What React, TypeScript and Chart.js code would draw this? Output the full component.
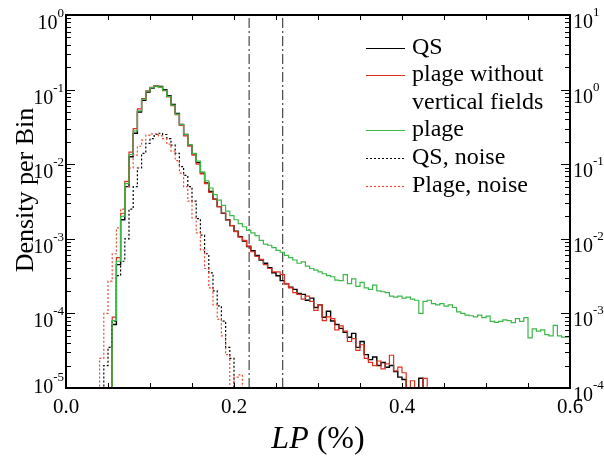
import React, { useEffect, useRef } from "react";
import { Chart, registerables } from "chart.js";

Chart.register(...registerables);

// ---------- data ----------
const BIN_WIDTH = 0.005; // LP (%) bin width
const EMPTY = 1e-6; // empty bin (below the axis floor)

// QS (black solid), bins start at LP = 0.055
const QS_START = 0.055;
const QS = [
  EMPTY, 7.1e-5, 4.5e-4, 1.8e-3, 5.0e-3, 1.26e-2, 2.6e-2, 5.0e-2, 7.2e-2, 9.3e-2,
  0.105, 0.112, 0.11, 0.1, 0.083, 0.063, 0.048, 0.034, 0.025, 0.018,
  0.0138, 0.0105, 7.6e-3, 5.6e-3, 4.3e-3, 3.4e-3, 2.7e-3, 2.2e-3, 1.8e-3, 1.5e-3,
  1.26e-3, 1.07e-3, 9.3e-4, 7.9e-4, 6.9e-4, 6.0e-4, 5.2e-4, 4.7e-4, 4.1e-4, 3.5e-4,
  3.2e-4, 2.75e-4, 2.5e-4, 2.25e-4, 2.1e-4, 1.85e-4, 1.8e-4, 1.5e-4, 1.6e-4, 1.2e-4,
  1.3e-4, 8.9e-5, 1.07e-4, 7.9e-5, 7.1e-5, 6.3e-5, 5.6e-5, 4.8e-5, 5.4e-5, 3.5e-5,
  4.2e-5, 2.8e-5, 2.4e-5, 2.6e-5, 2.0e-5, 2.2e-5, 1.9e-5, 2.0e-5, 1.66e-5, 1.4e-5,
  1.3e-5, EMPTY, EMPTY, EMPTY, 1.35e-5, EMPTY,
];

// plage without vertical fields (red solid)
const PLAGE_NOVERT_START = 0.055;
const PLAGE_NOVERT = [
  EMPTY, 8.9e-5, 5.6e-4, 2.2e-3, 5.9e-3, 1.45e-2, 3.0e-2, 5.5e-2, 7.6e-2, 9.6e-2,
  0.107, 0.112, 0.108, 0.097, 0.08, 0.061, 0.046, 0.033, 0.024, 0.0175,
  0.0132, 0.01, 7.4e-3, 5.5e-3, 4.2e-3, 3.4e-3, 2.7e-3, 2.2e-3, 1.8e-3, 1.5e-3,
  1.25e-3, 1.05e-3, 9.5e-4, 8.0e-4, 6.7e-4, 5.8e-4, 5.3e-4, 4.5e-4, 4.0e-4, 3.6e-4,
  3.6e-4, 3.3e-4, 2.5e-4, 2.2e-4, 1.9e-4, 1.8e-4, 1.55e-4, 1.7e-4, 1.45e-4, 1.1e-4,
  1.3e-4, 8.0e-5, 9.0e-5, 8.5e-5, 6.0e-5, 6.8e-5, 5.8e-5, 4.2e-5, 4.6e-5, 3.2e-5,
  3.8e-5, 2.5e-5, 2.2e-5, 2.0e-5, 2.3e-5, 1.8e-5, 2.1e-5, 2.75e-5, 1.7e-5, 1.9e-5,
  1.6e-5, EMPTY, 1.25e-5, EMPTY, EMPTY, 1.35e-5, EMPTY,
];

// plage (green solid)
const PLAGE_START = 0.055;
const PLAGE = [
  EMPTY, 8.0e-5, 5.0e-4, 2.0e-3, 5.5e-3, 1.35e-2, 2.8e-2, 5.2e-2, 7.4e-2, 9.5e-2,
  0.106, 0.111, 0.108, 0.098, 0.081, 0.062, 0.047, 0.034, 0.025, 0.0182,
  0.014, 0.011, 7.9e-3, 6.0e-3, 4.8e-3, 3.9e-3, 3.3e-3, 2.8e-3, 2.35e-3, 2.05e-3,
  1.8e-3, 1.6e-3, 1.45e-3, 1.3e-3, 1.2e-3, 1.1e-3, 9.5e-4, 8.5e-4, 8.2e-4, 7.6e-4,
  7.0e-4, 6.6e-4, 6.0e-4, 5.6e-4, 5.2e-4, 4.7e-4, 4.9e-4, 4.3e-4, 4.0e-4, 3.8e-4,
  3.6e-4, 3.4e-4, 3.2e-4, 3.1e-4, 2.8e-4, 2.75e-4, 3.3e-4, 2.5e-4, 2.9e-4, 2.3e-4,
  2.6e-4, 2.2e-4, 2.1e-4, 2.4e-4, 2.0e-4, 1.95e-4, 1.9e-4, 1.7e-4, 1.65e-4, 1.7e-4,
  1.6e-4, 1.65e-4, 1.55e-4, 1.5e-4, 1.0e-4, 1.45e-4, 1.5e-4, 1.35e-4, 1.3e-4, 1.35e-4,
  1.25e-4, 1.3e-4, 1.2e-4, 1.05e-4, 1.0e-4, 9.5e-5, 9.3e-5, 9.0e-5, 9.5e-5, 8.8e-5,
  9.2e-5, 7.8e-5, 7.6e-5, 7.8e-5, 8.2e-5, 8.0e-5, 7.5e-5, 8.5e-5, 7.8e-5, 8.8e-5,
  4.7e-5, 6.2e-5, 5.8e-5, 6.0e-5, 5.2e-5, 5.0e-5, 6.9e-5, 5.0e-5, 4.8e-5,
];

// QS, noise (black dotted)
const QS_NOISE_START = 0.045;
const QS_NOISE = [
  EMPTY, 2.0e-5, 3.5e-5, 7.9e-5, 3.2e-4, 5.0e-4, 1.0e-3, 2.5e-3, 5.0e-3, 8.9e-3,
  1.4e-2, 1.9e-2, 2.2e-2, 2.5e-2, 2.6e-2, 2.5e-2, 2.2e-2, 1.8e-2, 1.4e-2, 9.3e-3,
  7.1e-3, 5.0e-3, 3.2e-3, 1.86e-3, 1.12e-3, 6.3e-4, 3.5e-4, 2.0e-4, 1.26e-4, 7.9e-5,
  3.5e-5, 2.5e-5, EMPTY,
];

// Plage, noise (red dotted)
const PLAGE_NOISE_START = 0.04;
const PLAGE_NOISE = [
  EMPTY, 2.5e-5, 1.0e-4, 2.7e-4, 6.3e-4, 1.4e-3, 2.5e-3, 5.0e-3, 8.9e-3, 1.32e-2,
  1.74e-2, 2.1e-2, 2.45e-2, 2.55e-2, 2.55e-2, 2.4e-2, 2.2e-2, 1.86e-2, 1.5e-2, 1.12e-2,
  7.6e-3, 5.0e-3, 3.2e-3, 1.9e-3, 1.2e-3, 7.1e-4, 4.0e-4, 2.2e-4, 1.3e-4, 8.3e-5,
  5.0e-5, 2.8e-5, EMPTY, 1.4e-5, 1.5e-5, EMPTY,
];

// vertical dash-dot markers (LP %)
const VLINES = [0.218, 0.258];

// axis ticks / labels
const X_TICKS = [0, 0.05, 0.1, 0.15, 0.2, 0.25, 0.3, 0.35, 0.4, 0.45, 0.5, 0.55, 0.6];
const X_LABELS = [0.0, 0.2, 0.4, 0.6];
const Y_DECADES = [-5, -4, -3, -2, -1, 0];
const Y2_OFFSET = 1; // right axis = left axis x 10

const LEGEND_ITEMS = [
  { lines: ["QS"], color: "#000000", dash: [] as number[] },
  { lines: ["plage without", "vertical fields"], color: "#e0301e", dash: [] as number[] },
  { lines: ["plage"], color: "#3cb84a", dash: [] as number[] },
  { lines: ["QS, noise"], color: "#000000", dash: [2, 2] },
  { lines: ["Plage, noise"], color: "#ef4a32", dash: [2, 2] },
];

const SERIF = '"Liberation Serif", "Times New Roman", serif';

function hist(start: number, values: number[]) {
  const pts = values.map((v, i) => ({ x: start + i * BIN_WIDTH, y: v }));
  pts.push({ x: start + values.length * BIN_WIDTH, y: values[values.length - 1] });
  return pts;
}

const axesPlugin = {
  id: "customAxes",
  afterDraw(chart: any) {
    const ctx: CanvasRenderingContext2D = chart.ctx;
    const { left, right, top, bottom } = chart.chartArea;
    const xs = chart.scales.x;
    const ys = chart.scales.y;
    ctx.save();
    ctx.strokeStyle = "#000";
    ctx.fillStyle = "#000";
    ctx.lineWidth = 1;
    ctx.setLineDash([]);

    // y ticks (both sides)
    ctx.beginPath();
    for (const d of Y_DECADES) {
      const py = Math.round(ys.getPixelForValue(Math.pow(10, d))) + 0.5;
      ctx.moveTo(left, py); ctx.lineTo(left + 9, py);
      ctx.moveTo(right, py); ctx.lineTo(right - 9, py);
      if (d < 0) {
        for (let m = 2; m <= 9; m++) {
          const my = Math.round(ys.getPixelForValue(m * Math.pow(10, d))) + 0.5;
          ctx.moveTo(left, my); ctx.lineTo(left + 5, my);
          ctx.moveTo(right, my); ctx.lineTo(right - 5, my);
        }
      }
    }
    // x ticks (top & bottom)
    for (const t of X_TICKS) {
      const px = Math.round(xs.getPixelForValue(t)) + 0.5;
      ctx.moveTo(px, bottom); ctx.lineTo(px, bottom - 5);
      ctx.moveTo(px, top); ctx.lineTo(px, top + 5);
    }
    ctx.stroke();

    // frame
    ctx.lineWidth = 2;
    ctx.strokeRect(left, top, right - left, bottom - top);

    // y labels
    const big = `20px ${SERIF}`;
    const small = `13px ${SERIF}`;
    ctx.textBaseline = "alphabetic";
    ctx.textAlign = "left";
    for (const d of Y_DECADES) {
      const py = ys.getPixelForValue(Math.pow(10, d));
      // left
      const expL = String(d);
      ctx.font = big; const w1 = ctx.measureText("10").width;
      ctx.font = small; const w2 = ctx.measureText(expL).width;
      const bl = Math.min(py + 14, bottom + 5);
      const xl = left - 2 - w1 - w2;
      ctx.font = big; ctx.fillText("10", xl, bl);
      ctx.font = small; ctx.fillText(expL, xl + w1, bl - 12);
      // right
      const expR = String(d + Y2_OFFSET);
      const br = py + 13;
      const xr = right + 3;
      ctx.font = big; ctx.fillText("10", xr, br);
      ctx.font = small; ctx.fillText(expR, xr + w1, br - 12);
    }

    // x labels
    ctx.font = `21px ${SERIF}`;
    ctx.textAlign = "center";
    for (const v of X_LABELS) {
      ctx.fillText(v.toFixed(1), xs.getPixelForValue(v), bottom + 25);
    }

    // x title: LP (%)
    ctx.textAlign = "left";
    const italic = `italic 32px ${SERIF}`;
    const normal = `32px ${SERIF}`;
    ctx.font = italic; const wa = ctx.measureText("LP").width;
    ctx.font = normal; const wb = ctx.measureText(" (%)").width;
    const cx = (left + right) / 2 - (wa + wb) / 2;
    ctx.font = italic; ctx.fillText("LP", cx, 448);
    ctx.font = normal; ctx.fillText(" (%)", cx + wa, 448);

    // y title
    ctx.save();
    ctx.translate(33, 190);
    ctx.rotate(-Math.PI / 2);
    ctx.textAlign = "center";
    ctx.font = `26px ${SERIF}`;
    ctx.fillText("Density per Bin", 0, 0);
    ctx.restore();

    // legend
    ctx.font = `24px ${SERIF}`;
    ctx.textAlign = "left";
    let by = 53.5;
    const lineH = 27.6;
    for (const item of LEGEND_ITEMS) {
      ctx.strokeStyle = item.color;
      ctx.lineWidth = 1.2;
      ctx.setLineDash(item.dash);
      ctx.beginPath();
      const ly = Math.round(by - 6) + 0.5;
      ctx.moveTo(366, ly); ctx.lineTo(405, ly);
      ctx.stroke();
      ctx.setLineDash([]);
      item.lines.forEach((t, i) => {
        ctx.fillStyle = "#000";
        ctx.fillText(t, 412, by + i * lineH);
      });
      by += lineH * item.lines.length;
    }
    ctx.restore();
  },
};

export default function App() {
  const ref = useRef<HTMLCanvasElement | null>(null);
  useEffect(() => {
    if (!ref.current) return;
    const step = (label: string, start: number, vals: number[], color: string, width: number, dash: number[]) => ({
      label,
      data: hist(start, vals),
      borderColor: color,
      borderWidth: width,
      borderDash: dash,
      stepped: "after" as const,
      pointRadius: 0,
      fill: false,
    });
    const vline = (v: number) => ({
      label: "marker",
      data: [{ x: v, y: 1e-5 }, { x: v, y: 1 }],
      borderColor: "#222222",
      borderWidth: 1,
      borderDash: [10, 3, 2, 3],
      pointRadius: 0,
      fill: false,
    });
    const chart = new Chart(ref.current, {
      type: "line",
      data: {
        datasets: [
          step("plage", PLAGE_START, PLAGE, "#3cb84a", 1.2, []),
          step("Plage, noise", PLAGE_NOISE_START, PLAGE_NOISE, "#ef4a32", 1.2, [2, 2]),
          step("QS, noise", QS_NOISE_START, QS_NOISE, "#000000", 1.2, [2, 2]),
          step("plage without vertical fields", PLAGE_NOVERT_START, PLAGE_NOVERT, "#e0301e", 1.2, []),
          step("QS", QS_START, QS, "#000000", 1.4, []),
          ...VLINES.map(vline),
        ] as any,
      },
      options: {
        responsive: false,
        animation: false,
        layout: { padding: { left: 66, right: 34, top: 15, bottom: 73 } },
        plugins: { legend: { display: false }, tooltip: { enabled: false } },
        scales: {
          x: { type: "linear", min: 0, max: 0.6, display: false },
          y: { type: "logarithmic", min: 1e-5, max: 1, display: false },
        },
      },
      plugins: [axesPlugin],
    });
    return () => chart.destroy();
  }, []);
  return (
    <div style={{ position: "absolute", left: 0, top: 0, width: 604, height: 461, background: "#fff" }}>
      <canvas ref={ref} width={604} height={461} style={{ display: "block" }} />
    </div>
  );
}
